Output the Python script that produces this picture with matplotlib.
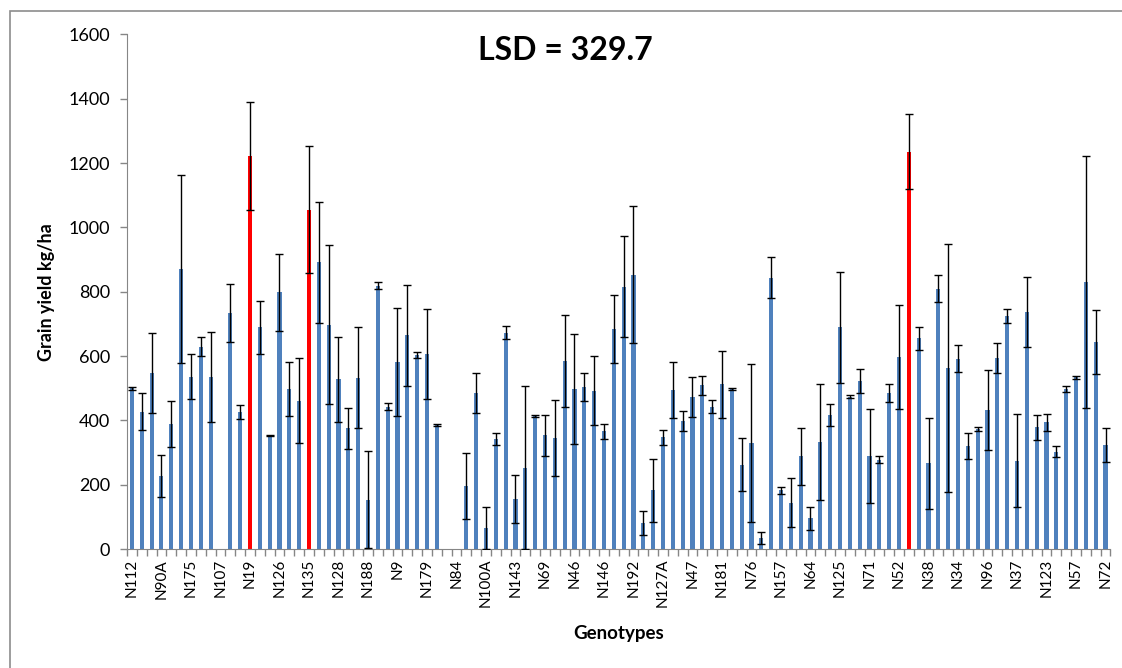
import numpy as np
import matplotlib
matplotlib.use('Agg')
import matplotlib.pyplot as plt
from matplotlib.patches import Rectangle

# labels shown under every third genotype
shown_labels = ['N112', 'N90A', 'N175', 'N107', 'N19', 'N126', 'N135', 'N128', 'N188',
                'N9', 'N179', 'N84', 'N100A', 'N143', 'N69', 'N46', 'N146', 'N192',
                'N127A', 'N47', 'N181', 'N76', 'N157', 'N64', 'N125', 'N71', 'N52',
                'N38', 'N34', 'N96', 'N37', 'N123', 'N57', 'N72']

# grain yield (kg/ha), nan = no data
yield_kg = [500, 427, 548, 227, 388, 871, 536, 629, 536, np.nan,
            734, 427, 1221, 689, 353, 798, 497, 461, 1055, 891,
            698, 528, 375, 533, 153, 819, 443, 582, 665, 604,
            606, 386, np.nan, np.nan, 196, 485, 66, 342, 673, 156,
            253, 414, 354, 345, 584, 498, 503, 492, 366, 685,
            816, 853, 81, 183, 348, 495, 397, 473, 509, 443,
            512, 497, 262, 329, 34, 844, 183, 144, 288, 96,
            332, 417, 689, 474, 522, 290, 278, 485, 597, 1236,
            655, 266, 810, 562, 592, 321, 373, 433, 594, 725,
            275, 738, 378, 394, 303, 498, 534, 831, 644, 324]

# error (+/-)
err_kg = [5, 58, 124, 65, 72, 293, 69, 30, 140, np.nan,
          91, 22, 168, 83, 2, 119, 84, 132, 198, 189,
          247, 132, 65, 157, 151, 11, 11, 168, 157, 10,
          139, 2, np.nan, np.nan, 102, 62, 65, 19, 19, 75,
          253, 3, 64, 118, 143, 172, 44, 107, 24, 105,
          158, 213, 38, 98, 23, 88, 31, 62, 29, 21,
          105, 4, 83, 246, 18, 64, 11, 76, 88, 36,
          180, 34, 172, 5, 38, 146, 12, 27, 161, 117,
          35, 141, 43, 385, 43, 40, 5, 124, 48, 21,
          144, 109, 38, 27, 18, 9, 4, 391, 99, 53]

highlight = [12, 18, 79]

n = len(yield_kg)
x = np.arange(n)
colors = ['#FF0000' if i in highlight else '#4F81BD' for i in range(n)]

fig = plt.figure(figsize=(11.22, 6.68), dpi=100)
ax = fig.add_axes([0.1132, 0.1781, 0.8765, 0.7703])

ax.bar(x, yield_kg, width=0.42, color=colors, zorder=2)
ax.errorbar(x, yield_kg, yerr=err_kg, fmt='none', ecolor='black',
            elinewidth=1.0, capsize=3, capthick=1.0, zorder=3)

ax.set_xlim(-0.5, n - 0.5)
ax.set_ylim(0, 1600)
ax.set_yticks(np.arange(0, 1601, 200))

labels = [''] * n
for k, lab in enumerate(shown_labels):
    labels[k * 3] = lab
ax.set_xticks(x)
ax.set_xticklabels(labels, rotation=90, fontsize=11, family='Lato')
ax.set_xticks(np.arange(-0.5, n, 1), minor=True)
ax.tick_params(axis='x', which='major', length=0, pad=7)
ax.tick_params(axis='x', which='minor', length=5, color='#868686', width=1)
ax.tick_params(axis='y', length=5, color='#868686', width=1, labelsize=13, pad=7)
for t in ax.get_yticklabels():
    t.set_family('Lato')

for s in ['top', 'right']:
    ax.spines[s].set_visible(False)
for s in ['left', 'bottom']:
    ax.spines[s].set_color('#868686')

ax.set_ylabel('Grain yield kg/ha', fontsize=13, fontweight='bold', family='Lato', labelpad=10)
ax.set_xlabel('Genotypes', fontsize=13.5, fontweight='bold', family='Lato', labelpad=13)

fig.text(0.5036, 0.924, 'LSD = 329.7', fontsize=23, fontweight='bold', family='Lato',
         ha='center', va='center')

fig.patches.append(Rectangle((10 / 1122, -0.05), 1.2, 1.05 - 11 / 668,
                             transform=fig.transFigure, fill=False,
                             edgecolor='#8C8C8C', linewidth=1.2))

fig.savefig('out.png', dpi=100)
